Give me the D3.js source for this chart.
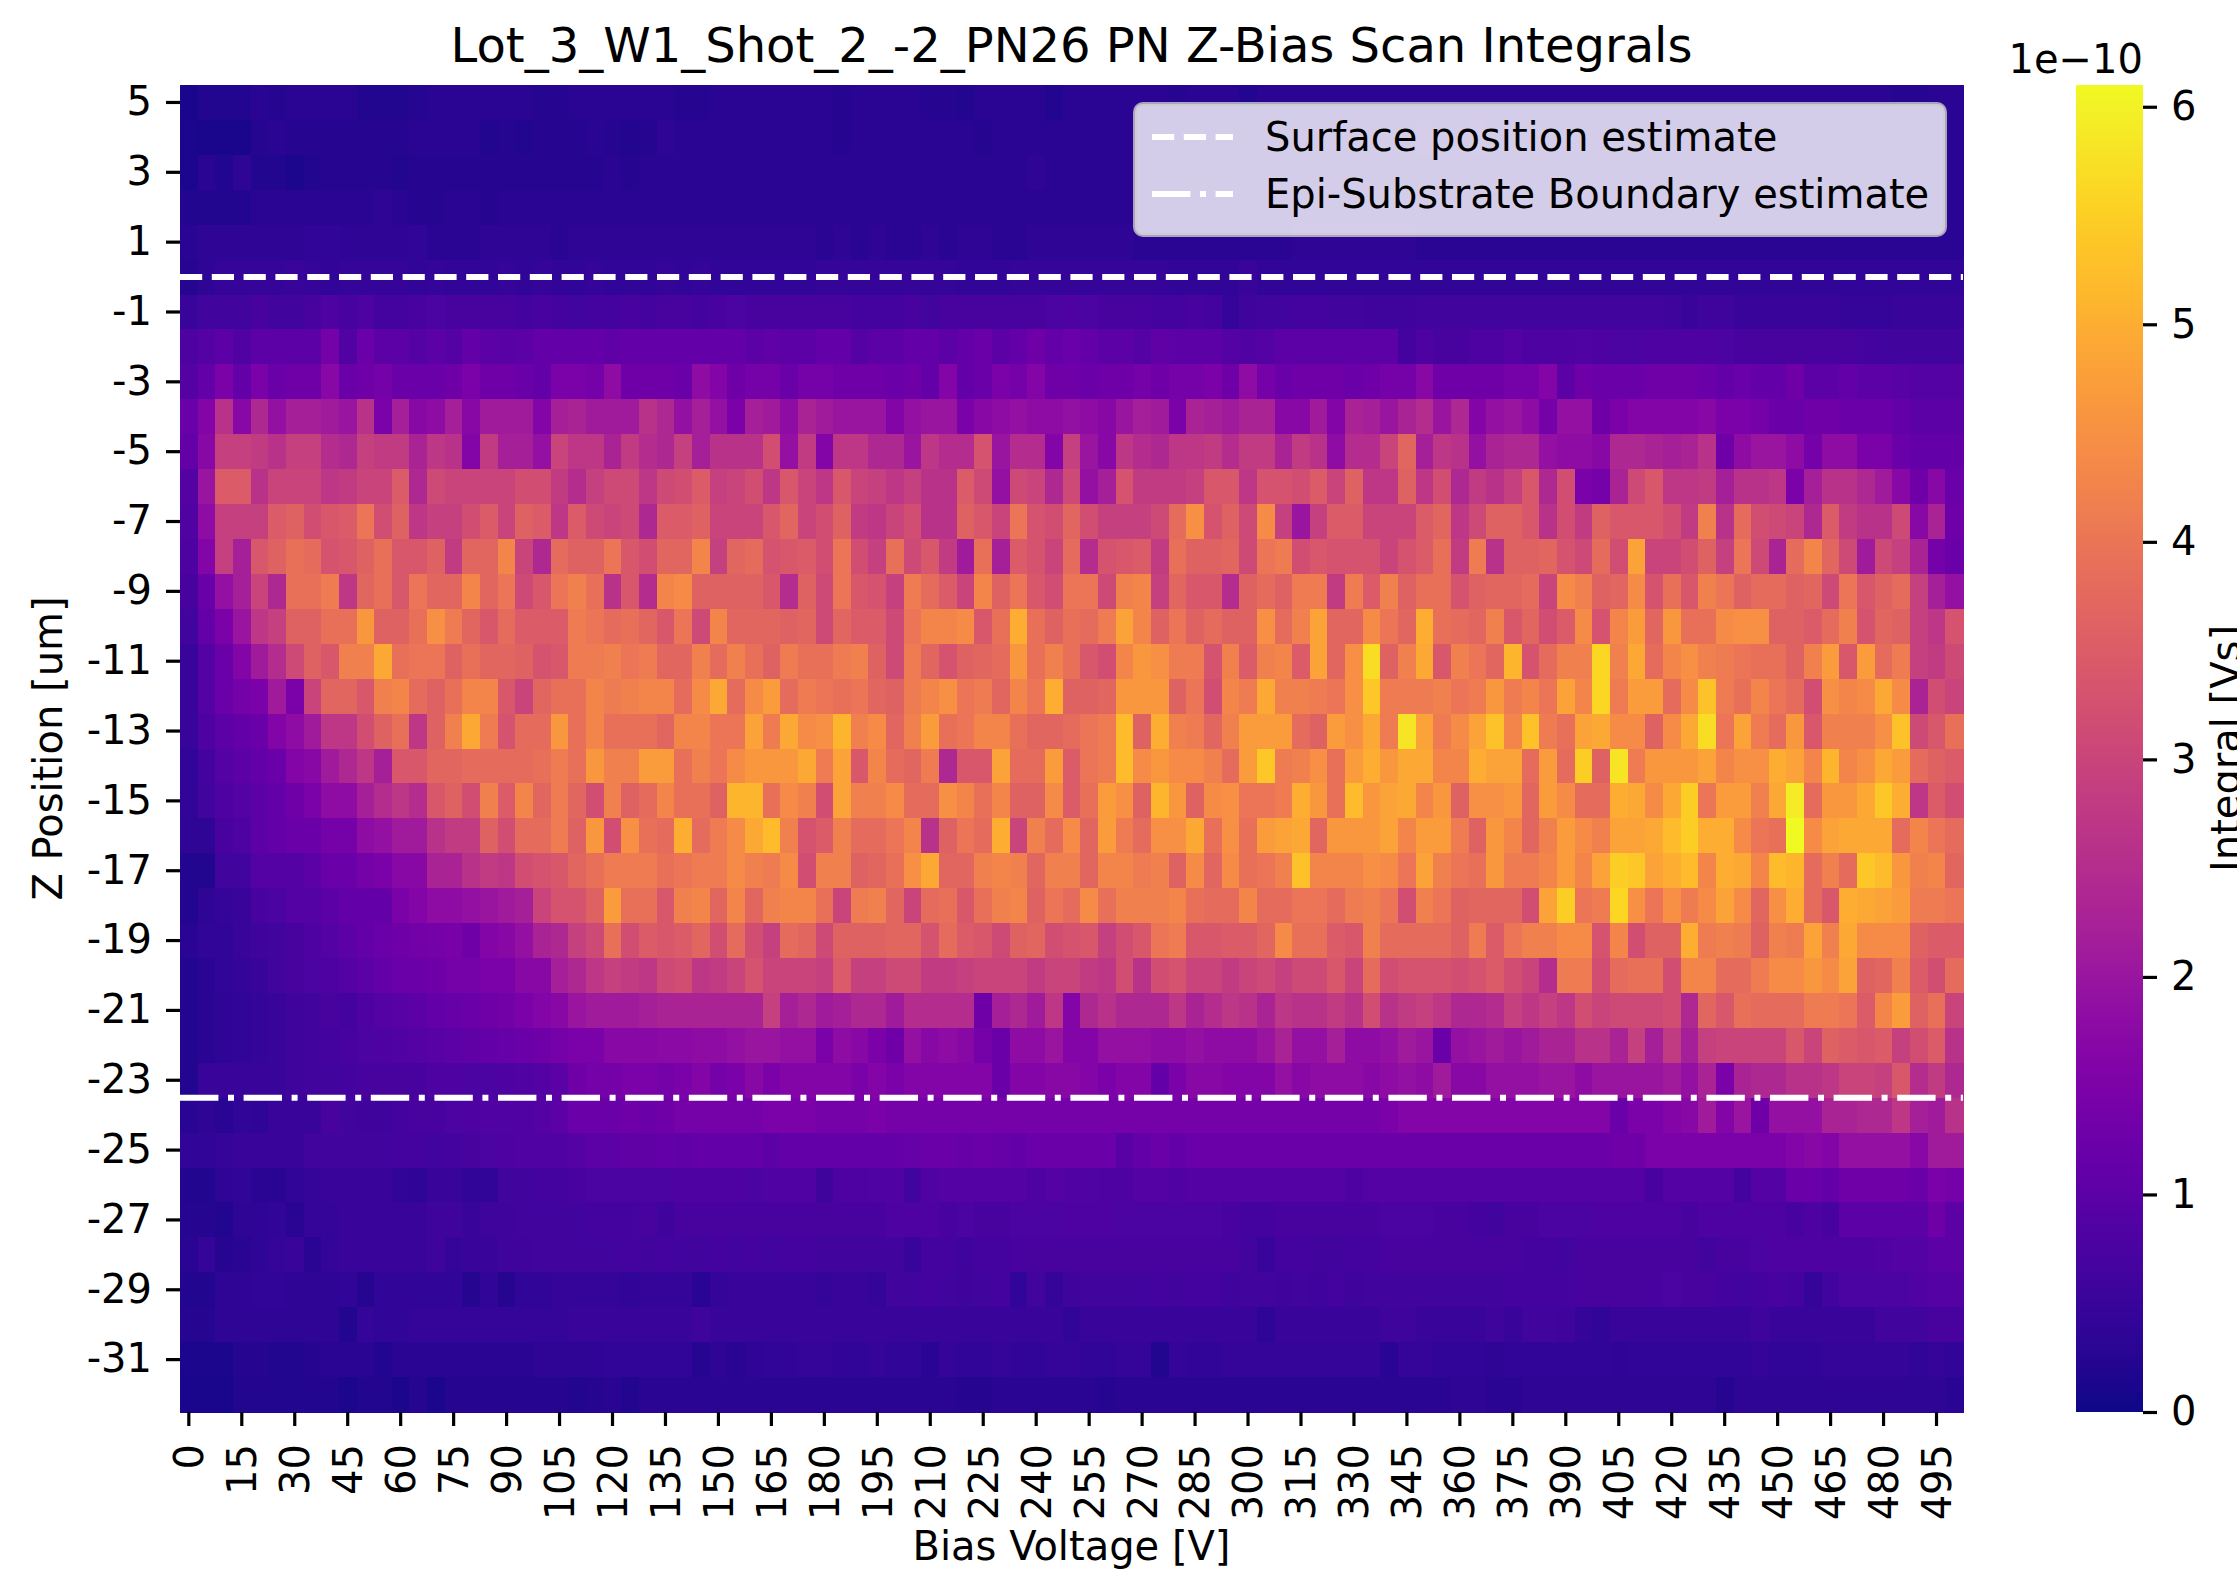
<!DOCTYPE html>
<html>
<head>
<meta charset="utf-8">
<title>Z-Bias Scan Integrals</title>
<script src="https://cdn.jsdelivr.net/npm/d3@7"></script>
<style>
  html, body { margin: 0; padding: 0; background: #fff; }
  svg { display: block; }
  text { font-family: "DejaVu Sans", sans-serif; fill: #000; }
</style>
</head>
<body>
<div id="chart"></div>
<script>
////////////////////////////////////////////////////////////////////////
// Data

const voltages = d3.range(0, 505, 5);
const zPositions = d3.range(5, -33, -1);
const voltageTicks = voltages.filter((d, i) => i % 3 === 0);
const zTicks = zPositions.filter((d, i) => i % 2 === 0);
const colorTicks = [0, 1, 2, 3, 4, 5, 6];

const surfaceZ = 0;
const boundaryZ = -23.5;

// integrals per z row (top to bottom), per bias column, in units of 1e-11 Vs
const integrals = [
[1,2,2,2,3,2.5,3,3,3,3, 2,2,2,2.5,3,3,3,3,3,3, 2.5,2.5,3,3,3,3,3,3,2.5,2.5, 3,3,3,3,3,3,3,2.5,3,3, 3,3,2.5,2.5,2,3,3,3,3,2, 3,3,3,3,3,3,2.5,3,3,3, 2,3,3,3,3,3,3,3,3,3, 3,3,3,3,3,3,3,3,3,3, 3,3,3,3,3,3,3,3,3,3, 3,3,3,3,3,3,3,2.5,2.5,3, 3],
[1.5,1,1,1,2.5,3,2.5,2.5,2.5,2.5, 2.5,2.5,2.5,3,3,3,3,2,2.5,2, 2.5,2.5,2.5,3,2.5,2,2.5,3.5,3,3, 3,3,3,3,3,3,3,2.5,3,3, 3,3,3,3,3,2.5,3,3,3,3, 3,3,3,3,3,3,3,3,3,3, 3,3,3,3,3,3,3,3,3,3, 3.5,3,3,3.5,3,3,3,3,3,3, 3,3,3,3,3,3,3,3,3,3, 3,3,3,3,3,3,3,3,3,3, 3],
[1.5,3,2,3.5,2,2,1.5,2,2.5,2.5, 2.5,2.5,2,2.5,2.5,2.5,2.5,2.5,2.5,2.5, 2.5,2.5,2.5,2.5,3,2.5,3,3,3,3, 3,3,3,3,3,3,3,3,3,3, 3,3,3,3,3,3,3,3,3.5,3, 3,3,3,3,3,3,3,3,3,3, 3,3,3,3,3,3,3,3,3,3, 3,3,3,3,3,3,3,3,3,3, 3,3,3,3,3,3,3,3,3,3, 3,3,3,3,3,3,3,3,3,3, 3],
[2,2,2,2,3,3,3,3,3,3, 3,3.5,3,2.5,2.5,3,3,2.5,3,3, 3,3,3,3,3,3,3,3,3,3, 3,3,3,3,3,3,3,3,3,3, 3,3,3,3,3,3,3,3,3,3, 3,3,3,3,3,3,3,3,3,3, 3,3,3,3,3,3,3,3,3,3, 3,3,3,3,3,3,3,3,3,3, 3,3,3,3,3,3,3,3,3,3, 3,3,3,3,3,3,3,3,3,3, 3],
[3,3.5,3.5,3.5,3.5,3.5,3.5,4,4,3.5, 3.5,3.5,3.5,4,3,3,3,3.5,3.5,3.5, 3.5,3,3.5,3.5,3.5,3.5,3.5,3.5,3.5,3.5, 3.5,3.5,3.5,3.5,3.5,3.5,3,3.5,3,3.5, 3,3,3.5,3,3.5,3.5,3,3,3.5,3.5, 3.5,3.5,3.5,3.5,3,3,3,3,3,3, 3,3,3,3.5,3.5,3.5,3.5,3.5,3.5,3.5, 3,3,3,3,3,3,3,3,3,3, 3,3,3,3,3,3,3,3,3,3, 3,3,3,3,3,3,3,3,3,3, 3],
[2.5,3.5,4.5,4.5,4.5,4.5,5,4.5,4,4.5, 4.5,4.5,4.5,4,4.5,4,4,4,4.5,4, 4.5,4,4,4.5,4,4,4,4.5,4,4.5, 4,4,4,4,4,4,4.5,4.5,4.5,4.5, 4.5,4.5,4.5,4.5,4,4,4,4.5,4.5,4.5, 4.5,4.5,4.5,4.5,4.5,4.5,4,4,4,4, 5,4,4,4,4,4,4,4,4,4, 4,4,4,4,4,4,4,4,4,4, 4,4,4,4,4,4,4,4,4,4, 4,4,4,4,4,4,4,4,4,4, 4],
[5,6,6,6,7,6,6,7,8,7, 8,6.5,6.5,7,7.5,7,7,7,7,6.5, 7,6.5,6,6.5,6.5,7,6.5,7,7,6.5, 7,7.5,7,7,7,7,7,7,6.5,6.5, 6.5,7,6,7,7,7,7,7,7,7.5, 8,7.5,7,7,7,6.5,6.5,7,6.5,4.5, 5.5,6,6,6.5,6.5,6,6,5.5,5.5,5.5, 6,6,6,6,6,6,6,6,6,6, 6,6,6,6,5.5,5,5.5,5.5,5,5, 5,5,5,5,4.5,4.5,4.5,5,5,5, 5],
[8,9,10,8.5,10,10,10,10,14,8.5, 12,10,10,9,10,9,11,10,9.5,10, 11,11,11,11,10.5,11,11,11,11,11, 11,11,10,10.5,10,10,11,11,9,10, 10,11,11,10,11,12,10,11,13,11, 12,11,10,10,9,10.5,10,10,10,9, 8.5,9,10,10,10,10,10,10,10,6.5, 8,7,7,8,8,9,8,8,8,8.5, 8,7.5,7.5,8,8,8,8,7.5,7,7, 7,7,7,7,7,6.5,6,6,6,6, 6],
[9,11,15,11,15,12,13,13,17,12, 13,14,12,12,12,13,15,13,13,12, 11,15,15,14,18,13,13,13,12,18, 16,13,14,14,12,14,14,13,13,13, 12,13,11,16,11,12,15,14,16,13, 13,12,13,13,14,13,14,14,15,13, 18,14,12,13,13,13,12,13,14,14, 17,13,13,13,13,14,14,16,10,13, 12,12,12,13,13,13,12,11,12,11, 11,13,10,10,11,10,10,9.5,9,9, 9],
[12,16,26,17,24,19,22,22,21,20, 26,15,22,17,18,22,17,21,21,21, 16,22,23,21,21,21,26,24,19,22, 19,15,22,21,18,23,21,20,20,20, 16,19,20,20,15,17,18,19,18,18, 19,18,17,20,22,21,15,23,22,21, 23,23,17,17,21,16,23,22,20,23, 25,20,24,16,19,20,18,14,19,19, 13,15,16,16,16,16,17,15,15,14, 12,12,13,13,12,12,12,11,10,10, 10],
[11,17,29,29,28,26,29,29,25,24, 29,28,28,23,27,26,16,28,22,22, 19,30,27,27,23,28,25,24,29,22, 26,26,26,32,19,28,16,27,27,24, 24,20,27,25,25,33,20,25,25,16, 29,20,17,27,25,24,27,27,28,25, 28,28,23,28,26,18,25,25,30,37, 22,27,26,19,23,24,24,19,18,18, 17,24,24,23,22,23,26,13,18,20, 20,18,14,18,18,15,15,12,11,11, 11],
[9,20,35,35,26,30,30,30,27,28, 30,30,35,24,31,30,30,30,30,32, 32,28,25,29,31,31,27,31,32,35, 29,30,32,27,34,30,27,34,30,29, 27,29,26,26,35,31,19,31,30,24, 31,19,22,33,28,28,28,29,34,34, 27,33,33,32,35,30,36,27,27,36, 27,32,24,28,26,29,34,24,32,15, 14,23,31,34,27,27,28,22,26,26, 27,15,22,26,26,24,21,17,13,17, 12],
[8.5,18,29,29,29,35,36,32,34,35, 40,32,36,27,29,29,32,35,30,36, 35,27,35,31,30,31,24,35,35,36, 30,30,30,34,37,30,32,36,28,27, 30,32,26,26,36,34,30,40,33,32, 37,32,29,29,29,31,38,45,33,36, 31,44,29,20,29,35,35,30,30,30, 35,37,27,31,36,36,34,26,32,28, 36,34,34,34,32,28,42,26,38,32, 31,30,24,35,28,26,26,31,17,23, 13],
[8,16,29,22,34,36,39,38,33,34, 36,39,34,34,36,28,37,37,43,30, 24,38,36,36,40,34,32,37,37,43, 29,37,38,33,34,35,32,40,32,29, 39,31,34,28,21,39,22,35,33,30, 38,25,33,34,35,28,39,36,36,37, 31,40,41,32,34,33,33,33,30,33, 35,39,28,41,26,36,36,37,33,31, 38,32,48,30,30,32,36,29,40,31, 23,38,43,37,31,21,31,29,23,14, 12],
[7,12,19,22,30,24,39,39,41,27, 37,39,34,40,37,37,43,37,40,31, 34,40,42,39,26,34,25,43,44,36, 36,36,36,34,25,36,31,40,34,33, 29,41,38,35,30,43,36,40,34,32, 40,40,31,42,43,29,37,34,34,25, 36,38,36,41,41,28,41,35,42,36, 39,39,33,36,37,37,38,30,44,42, 36,37,44,33,39,34,42,40,36,38, 38,36,37,31,40,34,36,38,29,22, 19],
[6,11,15,20,27,29,36,36,39,39, 46,36,36,39,45,41,37,34,38,35, 35,35,41,40,38,39,37,34,40,31, 43,37,37,37,36,37,31,37,35,35, 31,40,43,43,44,34,39,50,39,36, 39,38,41,48,43,36,40,36,38,36, 36,45,38,42,48,37,37,44,40,37, 50,39,38,37,42,34,37,32,35,44, 33,43,47,37,46,39,39,44,45,45, 36,36,35,38,42,33,37,36,29,27, 33],
[5,9,12,16,21,25,31,36,34,42, 42,49,39,40,40,36,39,37,37,36, 33,34,41,41,42,40,41,37,37,42, 38,42,39,36,41,39,39,41,42,36, 31,41,37,33,36,37,38,46,39,42, 39,34,32,43,46,45,41,41,33,42, 35,42,43,35,48,37,45,57,36,42, 49,34,42,40,37,51,33,38,42,42, 56,42,49,38,43,45,42,41,40,39, 39,36,42,47,34,47,38,41,29,28, 31],
[5,9,12,14,15,21,15,30,37,37, 34,42,43,38,36,39,43,43,34,30, 37,39,39,43,41,42,43,43,38,44, 49,38,44,47,38,41,40,39,40,37, 36,41,43,45,40,41,37,43,40,50, 36,36,37,46,46,46,36,40,32,43, 41,49,42,42,41,40,45,54,41,41, 41,42,40,41,46,41,43,40,48,43, 56,41,47,47,38,44,53,41,39,43, 40,38,32,45,43,44,49,44,23,32, 30],
[5,8,10,11,12,16,18,21,27,27, 32,36,39,27,36,42,49,41,33,38, 38,46,39,43,39,39,39,37,43,43, 40,40,48,41,49,44,45,51,42,44, 37,42,47,39,40,43,43,39,37,37, 38,40,41,52,36,50,42,41,37,42, 47,47,47,38,36,47,45,49,41,58, 48,41,44,48,53,43,53,41,39,48, 49,44,44,36,44,49,57,40,48,41, 38,46,34,42,42,42,45,53,31,34, 39],
[4,6.5,9,10,11,12,16,17,21,24, 27,22,34,34,37,37,38,38,38,38, 39,41,39,46,42,42,47,47,39,42, 40,44,46,46,46,49,41,48,34,43, 38,37,41,24,34,34,48,38,38,47, 35,40,41,52,44,46,44,44,42,38, 47,54,41,42,45,39,47,50,46,49, 49,43,43,50,48,48,38,47,38,55, 36,58,41,46,46,46,48,43,45,45, 50,48,43,51,43,45,49,47,38,36, 35],
[4,6,8,9,10,11,13,15,18,18, 22,25,27,25,34,36,32,42,35,43, 37,41,37,32,42,36,38,43,39,39, 36,51,51,39,44,42,32,48,42,42, 44,38,38,45,43,39,43,36,36,44, 35,39,47,45,36,51,46,36,44,45, 40,40,41,50,46,39,52,46,48,49, 43,46,36,45,45,46,37,47,44,38, 38,50,49,44,49,55,40,47,47,42, 49,59,38,46,46,49,54,50,27,35, 32],
[3.5,3.5,7,8,10,11,12,12,14,14, 18,19,21,21,26,28,28,36,32,38, 38,41,36,46,32,45,39,38,50,38, 41,44,49,52,42,33,35,42,38,38, 40,43,26,36,40,38,50,30,42,38, 44,37,47,41,38,45,45,49,39,45, 39,47,48,49,37,46,46,46,48,43, 47,47,41,36,46,43,37,42,47,44, 42,48,48,49,52,55,50,50,44,40, 39,61,44,48,49,49,49,38,43,40, 38],
[2,2,6,6,9,9,9,10,12,12, 14,15,17,17,23,23,26,28,27,32, 33,34,37,39,41,41,41,39,40,41, 41,44,42,41,44,32,42,42,36,37, 39,45,49,37,37,42,43,42,37,42, 42,37,43,43,41,42,36,44,37,44, 39,40,42,53,43,43,43,45,44,40, 48,42,40,39,46,41,41,43,47,43, 48,55,54,48,50,52,43,50,49,43, 52,51,38,42,38,54,52,46,42,43, 37],
[2,3.5,4.5,5,7,7.5,9,9,10,11, 11,11,15,16,18,18,19,20,21,22, 30,33,33,36,47,39,39,34,42,43, 37,43,37,42,43,43,39,30,41,42, 37,30,38,39,34,39,42,43,36,40, 38,44,39,42,42,42,43,39,38,38, 43,38,38,40,40,38,41,42,40,32, 42,40,36,37,37,37,32,48,55,40, 41,56,45,40,45,41,44,48,44,37, 45,50,38,34,50,49,48,47,41,41, 40],
[3,4,4,5,5.5,6,7,8,9,10, 11,12,13,13.5,14,14.5,13,16,17,19, 23,24,29,31,39,32,35,34,35,37, 32,38,32,29,38,37,31,36,36,36, 37,37,33,38,35,34,31,36,37,32, 33,34,29,32,34,40,41,34,34,35, 35,37,44,39,39,35,34,42,38,38, 38,38,36,41,35,40,42,42,44,44, 33,43,32,36,36,50,41,42,41,36, 42,41,48,42,49,44,44,44,36,35, 35],
[2,3,4,4.5,5,6,7,7.5,8,9, 10,11,12,12.5,13,14,14,15,15,17, 17,22,24,27,29,28,27,31,32,27, 28,30,33,30,30,30,29,35,29,29, 31,31,28,28,29,30,30,30,28,30, 30,28,27,32,26,32,33,30,30,28, 30,31,29,31,31,34,30,38,32,33, 33,33,32,33,35,32,30,25,41,41, 32,38,39,39,32,43,43,38,38,41, 44,44,46,44,48,36,37,42,35,32, 38],
[2,3,3.5,4,4.5,5,5.5,6,7,6.5, 8,9,9.5,10,11,11.5,12,13,13.5,15, 16,17,20,21,21,21,22,23,23,23, 23,23,23,29,22,24,21,22,24,24, 21,25,25,25,25,13,22,24,21,27, 16,24,26,24,24,24,27,23,25,27, 26,23,27,26,26,28,26,32,26,28, 29,27,24,24,25,29,27,29,27,32, 30,31,31,31,32,24,37,34,39,38, 38,38,41,41,40,35,43,47,36,39, 30],
[2,3,3.5,4,4.5,5,5.5,6,6.5,7, 7.5,8,8.5,9,9.5,10,10.5,11,11.5,12, 13,14,15,15,17,17,17,17.5,17.5,18, 18,19,20,20,19,19,15,18,17,15, 13,19,17,18,17,14,12,18,18,20, 16,16,19,19,19,18,18,19,18,18, 18,20,23,19,19,22,18,18,19,21, 20,12,19,20,21,20,21,23,23,26, 26,23,29,22,28,22,29,30,30,30, 30,34,30,36,35,34,35,29,32,35, 26],
[2,5,5,5,5,5,5.5,6,6,6.5, 7,7,7,7,8,8,7.5,7.5,8,8.5, 9,10,13,14,14,15,15,14,15,16, 14,15,17,15,16,16,16,16,15,16, 15,16,16,16,16,16,12,16,16,17, 17,16,15,16,16,11,15,17,17,16, 16,16,19,17,18,18,18,17,18,19, 18,21,17,17,19,19,19,20,20,18, 20,20,20,20,21,19,23,15,23,24, 24,26,26,27,30,30,29,34,25,28, 24],
[3,3.5,3,4,3.5,5,5,5,7,6, 5.5,5.5,6.5,7,7,7.5,8,8.5,8.5,8.5, 9,10,12,12,12,13,12,13,14,14, 14,14,14,15,15,15,14,14,14,15, 14,14,14,14,14,14,14,14,14,14, 14,14,14,14,14,14,14,14,14,14, 14,14,14,14,14,14,14,14,15,16, 16,16,16,16,16,16,16,16,16,16, 16,12,15,15,16,17,21,16,20,13, 19,19,19,23,23,24,24,27,22,21, 26],
[4,4,4.5,5,5,5,5,6,6,6, 6,6,6.5,6.5,6,6.5,7,7.5,8,8.5, 8.5,8.5,9,10,10,10.5,10.5,11,10.5,11, 11,11,11,10,11,11,11,11,11,11, 11,11.5,12,12,11.5,12,11.5,11,12,12, 12,12,12,9.5,11,12,11,12,12,12, 12,12,12,12,12,12,12,12,12,12, 12,12,12,12,12,12,12,12,12,12, 12,13,13,15,15,15,15,15,15,15, 15,16,17,16,19,19,19,19,17,21, 21],
[2,2,3.5,4,3,3,4,4.5,5,5, 5,5,4,3.5,5,5,4,4,6,6, 6.5,6.5,7,7.5,7.5,7.5,7.5,7.5,8,8, 8,8,7.5,8.5,8.5,8.5,5.5,8,8,8.5, 8.5,6,8.5,9,9,9,9,9,8,9, 8.5,8.5,8,8,9,9,8.5,9,9,9, 9,9,9,9,9,9,8,9,9,9, 9,9,9,9,9,9,9,9,9,9, 9,9,9,7,9,9,9,9,6.5,9, 9,12,12,11,13,13,13,13,12,15, 14],
[2.5,2.5,2,3.5,3.5,4,3,4.5,4.5,5, 5,5,5,5,5.5,5.5,5,5.5,5.5,6, 6,6,6,6.5,6.5,6.5,7,5.5,7,7, 7,7,7,7,7,7,7,7,7,7, 8,8,8,7,7.5,7,7,7.5,7.5,7.5, 8,8,8,7.5,7.5,7.5,7.5,7.5,7.5,7, 6.5,6.5,7,7,7,7,7,7,7.5,7.5, 7.5,7,7,6.5,6,7,7,7.5,7.5,7.5, 8,8,8,8,8,7,8,8,8,8, 8,7,8,7,10,10,10,10,10,13, 10],
[3,4.5,2.5,3,3.5,4.5,5,3,4.5,5, 5,5,5,5,5.5,4.5,5,5,5.5,5.5, 6,6,6,6,6,6.5,6,6.5,6,6, 6.5,6,6.5,6,6.5,6.5,6,6,6,6, 6,5,6.5,6.5,5.5,6.5,6.5,7,7,7, 7,7,7,7,7,7,7,7,7,7, 6,5,6.5,6.5,6,6,6.5,6.5,7,7, 7,7,7,7,7,7,6.5,6.5,6,7, 7,7,7,7,7,7,6,7,7,7.5, 8,8,8,8,8,8,8.5,9,9,10, 10],
[2,2,3.5,3.5,4,4,3.5,3.5,3.5,4, 2.5,4,4,4,4,4,2.5,4,2.5,4, 4,4.5,4.5,4.5,4.5,4,4.5,4.5,4.5,3, 4.5,5,5,5,5,5,4.5,5,5,4.5, 6,6,6.5,6,5.5,6,6.5,4,6,4.5, 5.5,6,6,6,6,6.5,6,6.5,6.5,5.5, 6,6,5.5,6,5.5,6.5,5.5,6,6,6, 6,6,6,6,6,6.5,6.5,6.5,6.5,7, 7,7,7,7,7.5,7,7,6.5,6,6.5, 7,6.5,4.5,6,7.5,7.5,7.5,7.5,8.5,9, 9],
[2.5,2.5,3.5,3.5,3.5,3.5,3.5,3.5,3.5,2, 4.5,4,4,4.5,4.5,4.5,4.5,4.5,4.5,4.5, 4.5,4.5,5,5,5,5,5,5,5,5.5, 5,5,5,5,5,5,5,5,5,5, 5,5,5,5,5,5,5,5,5,5, 4,5,5,5,5,5,5,5,5,5, 5,3.5,5,5,5,5,5,5,5.5,5.5, 5,5,5,5,5.5,5,6,6,5.5,4.5, 4,5,5,5,5,5,5,5,5,5.5, 5,5,5,5,5,5,6,6,6,7, 7],
[1.5,1.5,1.5,2.5,2.5,2,2,2.5,3,3, 3,2,3,3,3,3,3,3,3,3, 3.5,3.5,3.5,3.5,4,4,4,4,4,2.5, 3.5,3,3.5,4,4,4.5,4.5,4,4,4.5, 4,4,3,4.5,4,4,4.5,4,4,4.5, 4.5,4,4,4.5,4.5,2,4.5,4,4,4.5, 4.5,4.5,4.5,4.5,4.5,4.5,4.5,4.5,3,4.5, 4.5,4,4,4,3.5,4,4,4,4,4, 4,3.5,4,4,4,4,4,4,4,4.5, 4,4,4,4.5,4.5,4.5,4.5,4.5,4,4.5, 4],
[1,1,1,2,2,2,2,2,2,1.5, 2,2,1.5,2.5,1.2,2.5,2.5,2.5,2.5,2.5, 2.5,2.5,2,2.5,3,2,3,3,3,3, 3,3,3,3,3,3,3,3,3,3, 3,3,3,3,2.5,2.5,3,3,3,3, 3,3,2.5,3,3,3,3,3,3,3, 3,3,3,3,3,3,3,3,3,3, 3,3,3.5,3.5,3,3,3.5,3.5,3.5,3.5, 3.5,3.5,3.5,3.5,3.5,3.5,3.5,2.5,3.5,3.5, 3.5,3.5,3.5,3.5,3.5,3.5,3.5,3.5,3.5,3.5, 3]
];

////////////////////////////////////////////////////////////////////////
// Figure layout

const width = 2237;
const height = 1570;
const plot = { left: 180, right: 1963, top: 85, bottom: 1412 };
const bar = { left: 2076, right: 2143 };
const pt = 4; // pixels per point in this figure
const tickFont = 10 * pt;

const svg = d3.select("#chart").append("svg")
  .attr("width", width)
  .attr("height", height);

const xScale = d3.scaleBand().domain(voltages).range([plot.left, plot.right]);
const yScale = d3.scaleBand().domain(zPositions).range([plot.top, plot.bottom]);

// continuous z, for the two estimate lines
const zScale = d3.scaleLinear().domain([5.5, -32.5]).range([plot.top, plot.bottom]);

const colorScale = d3.scaleSequential(d3.interpolatePlasma).domain([0, 61]);
const barScale = d3.scaleLinear().domain([0, 6.1]).range([plot.bottom, plot.top]);

////////////////////////////////////////////////////////////////////////
// Heatmap cells

svg.append("g")
  .selectAll("g")
  .data(integrals)
  .enter().append("g")
  .attr("transform", (d, i) => `translate(0, ${yScale(zPositions[i])})`)
  .selectAll("rect")
  .data(d => d)
  .enter().append("rect")
  .attr("x", (d, i) => xScale(voltages[i]))
  .attr("width", xScale.bandwidth() + 0.5)
  .attr("height", yScale.bandwidth() + 0.5)
  .attr("shape-rendering", "crispEdges")
  .attr("fill", d => colorScale(d));

////////////////////////////////////////////////////////////////////////
// Axes

function styleAxis(g) {
  g.select(".domain").remove();
  g.selectAll(".tick line").attr("stroke", "#000").attr("stroke-width", 0.8 * pt);
  g.selectAll(".tick text").attr("font-size", tickFont).attr("fill", "#000");
  g.attr("font-family", null).attr("font-size", null);
}

svg.append("g")
  .attr("transform", `translate(0, ${plot.bottom})`)
  .call(d3.axisBottom(xScale).tickValues(voltageTicks).tickSize(3.5 * pt).tickSizeOuter(0))
  .call(styleAxis)
  .selectAll(".tick text")
  .attr("transform", "rotate(-90)")
  .attr("x", -32)
  .attr("y", 0)
  .attr("dy", "0.36em")
  .style("text-anchor", "end");

svg.append("g")
  .attr("transform", `translate(${plot.left}, 0)`)
  .call(d3.axisLeft(yScale).tickValues(zTicks).tickSize(3.5 * pt).tickPadding(3.5 * pt).tickSizeOuter(0))
  .call(styleAxis);

svg.append("text")
  .attr("x", (plot.left + plot.right) / 2)
  .attr("y", 62)
  .attr("font-size", 12 * pt)
  .style("text-anchor", "middle")
  .text("Lot_3_W1_Shot_2_-2_PN26 PN Z-Bias Scan Integrals");

svg.append("text")
  .attr("x", (plot.left + plot.right) / 2)
  .attr("y", 1560)
  .attr("font-size", tickFont)
  .style("text-anchor", "middle")
  .text("Bias Voltage [V]");

svg.append("text")
  .attr("transform", `translate(62, ${(plot.top + plot.bottom) / 2}) rotate(-90)`)
  .attr("font-size", tickFont)
  .style("text-anchor", "middle")
  .text("Z Position [um]");

////////////////////////////////////////////////////////////////////////
// Surface and epi boundary lines

const lineWidth = 6;

svg.append("line")
  .attr("x1", plot.left).attr("x2", plot.right)
  .attr("y1", zScale(surfaceZ)).attr("y2", zScale(surfaceZ))
  .attr("stroke", "#fff").attr("stroke-width", lineWidth)
  .attr("stroke-dasharray", [3.7, 1.6].map(d => d * lineWidth).join(" "));

svg.append("line")
  .attr("x1", plot.left).attr("x2", plot.right)
  .attr("y1", zScale(boundaryZ)).attr("y2", zScale(boundaryZ))
  .attr("stroke", "#fff").attr("stroke-width", lineWidth)
  .attr("stroke-dasharray", [6.4, 1.6, 1, 1.6].map(d => d * lineWidth).join(" "));

////////////////////////////////////////////////////////////////////////
// Legend

const legend = svg.append("g");

legend.append("rect")
  .attr("x", 1135).attr("y", 104)
  .attr("width", 810).attr("height", 131)
  .attr("rx", 8).attr("ry", 8)
  .attr("fill", "#fff").attr("fill-opacity", 0.8)
  .attr("stroke", "#ccc").attr("stroke-opacity", 0.8).attr("stroke-width", 1 * pt);

const legendItems = [
  { label: "Surface position estimate", dash: [3.7, 1.6], y: 137 },
  { label: "Epi-Substrate Boundary estimate", dash: [6.4, 1.6, 1, 1.6], y: 194 }
];

legendItems.forEach(item => {
  legend.append("line")
    .attr("x1", 1152).attr("x2", 1233)
    .attr("y1", item.y).attr("y2", item.y)
    .attr("stroke", "#fff").attr("stroke-width", lineWidth)
    .attr("stroke-dasharray", item.dash.map(d => d * lineWidth).join(" "));
  legend.append("text")
    .attr("x", 1265)
    .attr("y", item.y + 14)
    .attr("font-size", tickFont)
    .text(item.label);
});

////////////////////////////////////////////////////////////////////////
// Colorbar

const gradient = svg.append("defs").append("linearGradient")
  .attr("id", "plasma-bar")
  .attr("x1", 0).attr("x2", 0).attr("y1", 1).attr("y2", 0);

gradient.selectAll("stop")
  .data(d3.range(0, 1.001, 0.02))
  .enter().append("stop")
  .attr("offset", d => d)
  .attr("stop-color", d => d3.interpolatePlasma(d));

svg.append("rect")
  .attr("x", bar.left).attr("y", plot.top)
  .attr("width", bar.right - bar.left).attr("height", plot.bottom - plot.top)
  .attr("fill", "url(#plasma-bar)");

svg.append("g")
  .attr("transform", `translate(${bar.right}, 0)`)
  .call(d3.axisRight(barScale).tickValues(colorTicks).tickFormat(d3.format("d"))
    .tickSize(3.5 * pt).tickPadding(3.5 * pt).tickSizeOuter(0))
  .call(styleAxis);

svg.append("text")
  .attr("x", bar.right)
  .attr("y", 73)
  .attr("font-size", tickFont)
  .style("text-anchor", "end")
  .text("1e\u221210");

svg.append("text")
  .attr("transform", `translate(2240, ${(plot.top + plot.bottom) / 2}) rotate(-90)`)
  .attr("font-size", tickFont)
  .style("text-anchor", "middle")
  .text("Integral [Vs]");
</script>
</body>
</html>
